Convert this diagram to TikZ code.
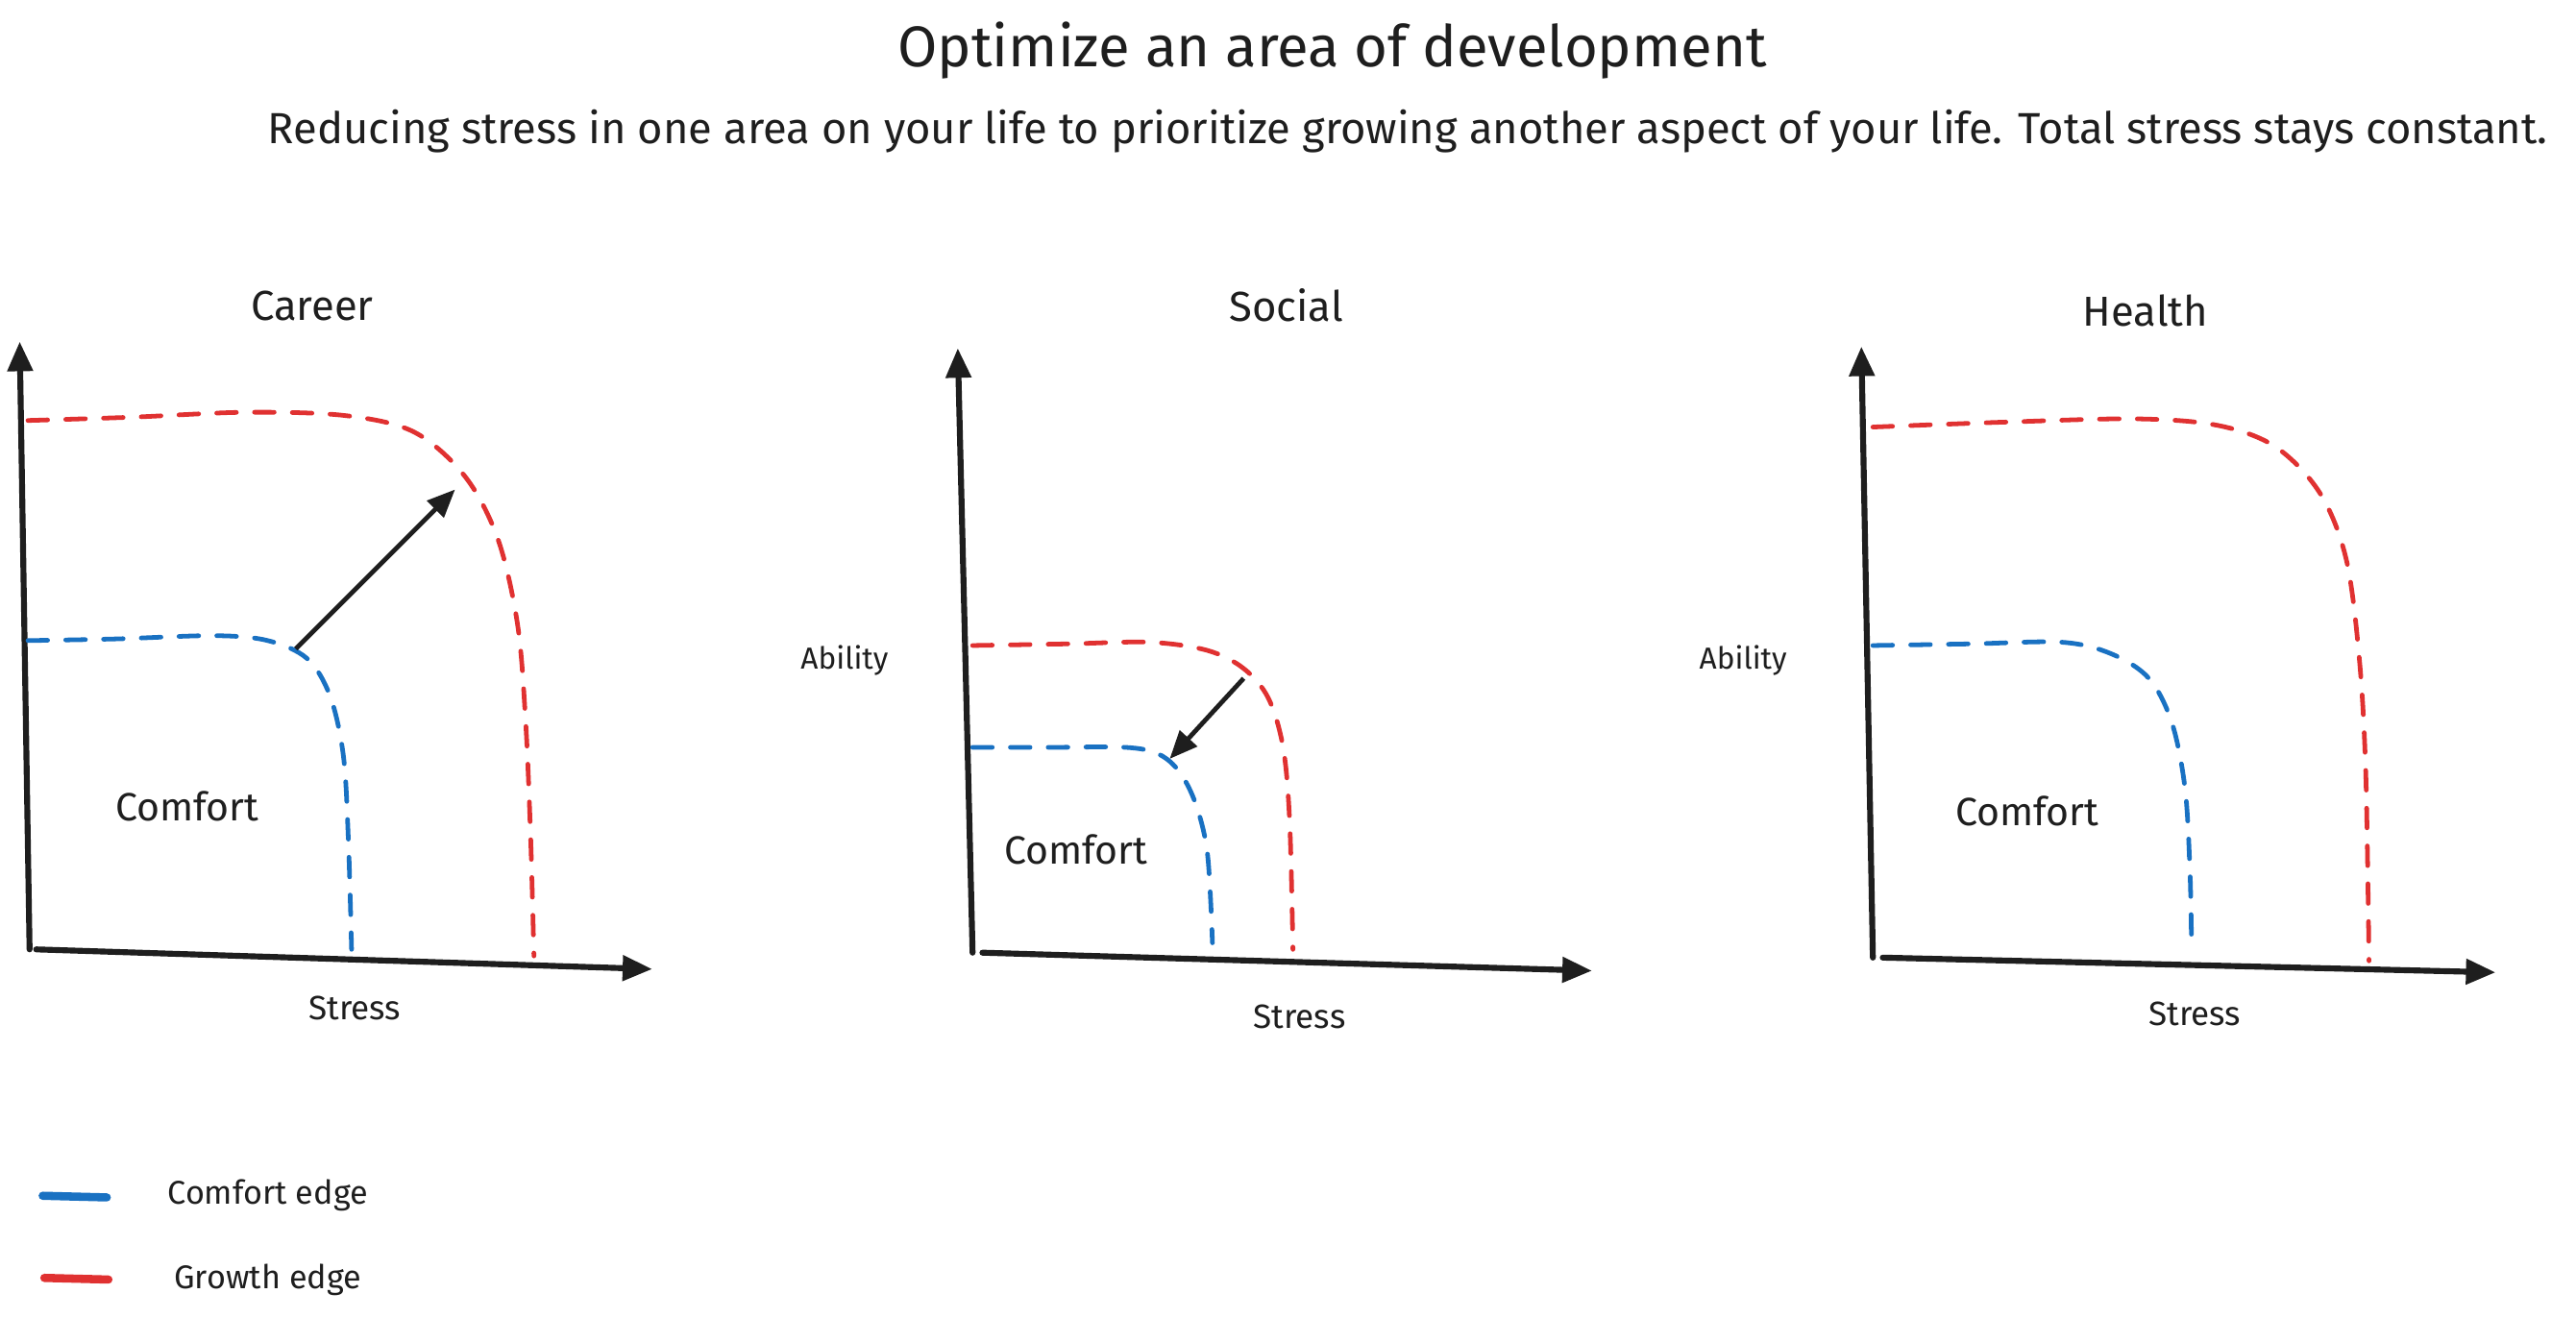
\documentclass[tikz,border=0pt]{standalone}
\usepackage{fontspec}
\setmainfont{Fira Sans}
\usetikzlibrary{arrows.meta}
\definecolor{ink}{HTML}{1E1E1E}
\definecolor{cblue}{HTML}{1971C2}
\definecolor{cred}{HTML}{E03131}
\tikzset{
  axisline/.style={draw=ink, line width=3.6pt, line cap=round, -{Triangle[length=18pt,width=15pt]}},
  edgeline/.style={line width=2.8pt, line cap=round, dash pattern=on 12pt off 11pt},
  comfortedge/.style={edgeline, draw=cblue},
  growthedge/.style={edgeline, draw=cred},
  shiftarrow/.style={draw=ink, line width=2.8pt, -{Triangle[length=17pt,width=14pt]}},
  swatch/.style={line width=5pt, line cap=round},
  txt/.style={text=ink, inner sep=0pt},
  titletxt/.style={txt, font=\fontsize{35}{40}\selectfont},
  subtxt/.style={txt, font=\fontsize{26.5}{30}\selectfont},
  charttxt/.style={txt, font=\fontsize{25.5}{29}\selectfont},
  comforttxt/.style={txt, font=\fontsize{24}{28}\selectfont},
  stresstxt/.style={txt, font=\fontsize{20.5}{24}\selectfont},
  abilitytxt/.style={txt, font=\fontsize{18.5}{22}\selectfont},
  legendtxt/.style={txt, font=\fontsize{20}{23}\selectfont},
}
\begin{document}
\begin{tikzpicture}[x=1pt, y=-1pt]
\useasboundingbox[fill=white] (0,0) rectangle (1568,802);

% headings
\node[titletxt] (title) at (811,31) {Optimize an area of development};
\node[subtxt] (subtitle) at (857,80) {Reducing stress in one area on your life to prioritize growing another aspect of your life. Total stress stays constant.};

% ---------- Career ----------
\node[charttxt] (careerT) at (190,186) {Career};
\coordinate (c-o) at (18,578);
\coordinate (c-y) at (12,208);
\coordinate (c-x0) at (22,578);
\coordinate (c-x) at (397,590);
\draw[axisline] (c-o) -- (c-y);
\draw[axisline] (c-x0) -- (c-x);
\draw[growthedge] plot[smooth, tension=0.55] coordinates {(17,256) (80,254) (150,251) (210,253) (252,263) (283,290) (303,328) (315,380) (320,440) (323,510) (325,582)};
\draw[comfortedge] plot[smooth, tension=0.55] coordinates {(17,390) (70,389) (130,387) (163,390) (187,401) (201,424) (209,460) (212,510) (214,578)};
\coordinate (c-a0) at (180,395);
\coordinate (c-a1) at (277,298);
\draw[shiftarrow] (c-a0) -- (c-a1);
\node[comforttxt] (careerC) at (114,491) {Comfort};
\node[stresstxt] (careerS) at (216,614) {Stress};

% ---------- Social ----------
\node[charttxt] (socialT) at (783,186) {Social};
\coordinate (s-o) at (592,580);
\coordinate (s-y) at (583,212);
\coordinate (s-x0) at (598,580);
\coordinate (s-x) at (969,591);
\draw[axisline] (s-o) -- (s-y);
\draw[axisline] (s-x0) -- (s-x);
\draw[growthedge] plot[smooth, tension=0.55] coordinates {(592,393) (650,392) (700,391) (735,396) (757,407) (772,425) (781,455) (785,500) (787,578)};
\draw[comfortedge] plot[smooth, tension=0.55] coordinates {(592,455) (640,455) (685,455) (705,459) (718,470) (728,490) (735,520) (738,574)};
\coordinate (s-a0) at (757,413);
\coordinate (s-a1) at (712,462);
\draw[shiftarrow] (s-a0) -- (s-a1);
\node[abilitytxt] (socialA) at (514,402) {Ability};
\node[comforttxt] (socialC) at (655,517) {Comfort};
\node[stresstxt] (socialS) at (791,619) {Stress};

% ---------- Health ----------
\node[charttxt] (healthT) at (1306,189) {Health};
\coordinate (h-o) at (1140,583);
\coordinate (h-y) at (1133,211);
\coordinate (h-x0) at (1146,583);
\coordinate (h-x) at (1519,592);
\draw[axisline] (h-o) -- (h-y);
\draw[axisline] (h-x0) -- (h-x);
\draw[growthedge] plot[smooth, tension=0.55] coordinates {(1140,260) (1220,257) (1300,255) (1350,259) (1385,272) (1412,300) (1428,340) (1436,400) (1440,470) (1442,585)};
\draw[comfortedge] plot[smooth, tension=0.55] coordinates {(1140,393) (1200,392) (1255,391) (1285,398) (1308,413) (1322,440) (1330,480) (1333,530) (1334,578)};
\node[abilitytxt] (healthA) at (1061,402) {Ability};
\node[comforttxt] (healthC) at (1234,494) {Comfort};
\node[stresstxt] (healthS) at (1336,617) {Stress};

% ---------- legend ----------
\coordinate (lb0) at (26,728);
\coordinate (lb1) at (65,729);
\coordinate (lr0) at (27,778);
\coordinate (lr1) at (66,779);
\draw[swatch, draw=cblue] (lb0) -- (lb1);
\draw[swatch, draw=cred] (lr0) -- (lr1);
\node[legendtxt] (legC) at (163,728) {Comfort edge};
\node[legendtxt] (legG) at (163,779) {Growth edge};
\end{tikzpicture}
\end{document}
